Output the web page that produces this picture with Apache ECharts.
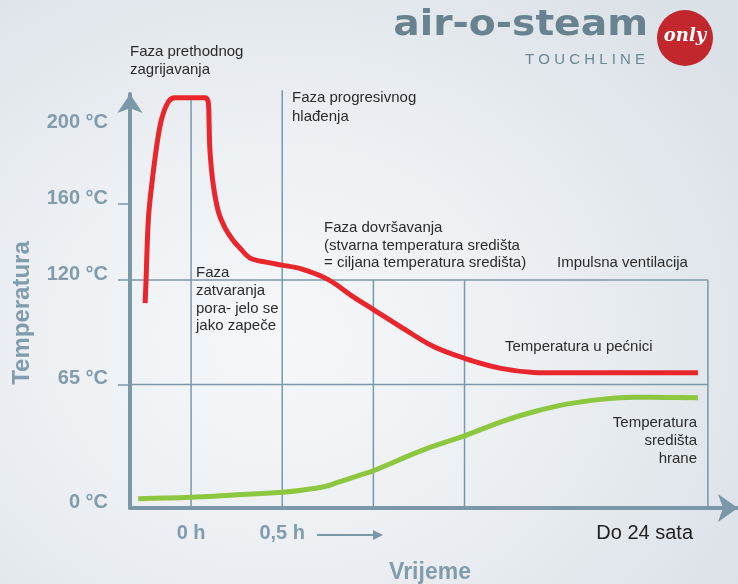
<!DOCTYPE html>
<html>
<head>
<meta charset="utf-8">
<script src="https://cdn.jsdelivr.net/npm/echarts@6/dist/echarts.min.js"></script>
<style>
  html, body { margin: 0; padding: 0; }
  #chart {
    width: 738px;
    height: 584px;
    background: radial-gradient(ellipse 75% 80% at 38% 58%, #f5f7f9 0%, #eef1f4 40%, #dae1e7 100%);
  }
</style>
</head>
<body>
<div id="chart"></div>
<script>
// temperatura u pećnici (crvena krivulja)
const ovenTime = [-0.252, -0.248, -0.234, -0.216, -0.188, -0.161, -0.125, -0.088,
  0.077, 0.095, 0.099, 0.104, 0.122, 0.15, 0.187, 0.23, 0.269, 0.324, 0.411, 0.5,
  0.6, 0.75, 0.89, 1.0, 1.15, 1.33, 1.5, 1.7, 1.88, 2.0, 2.78];
const ovenTemp = [107.9, 117.4, 152.5, 170, 191, 205, 213.8, 216,
  216, 213, 201.6, 187.5, 170, 156, 147.4, 141, 136.8, 131.6, 129.5, 127.9,
  126, 120.4, 111.2, 104.5, 95.4, 85, 78.8, 73.5, 71.4, 71.2, 71.2];

// temperatura središta hrane (zelena krivulja)
const coreTime = [-0.29, 0, 0.214, 0.5, 0.617, 0.727, 0.8, 0.91, 1.0, 1.13, 1.31, 1.5, 1.7, 1.88, 2.06, 2.25, 2.43, 2.6, 2.78];
const coreTemp = [4.9, 5.6, 6.7, 8.3, 9.5, 11.2, 13.3, 16.8, 19.6, 24.9, 31.9, 38, 45.4, 50.7, 54.7, 57.2, 58.3, 58.2, 58];

const tempTicks = [0, 65, 120, 160, 200];
const tempMarks = [65, 120, 160];
const timeTicks = [0, 0.5];
const timeNames = ['0 h', '0,5 h'];

// granice faza: [vrijeme, gornja temperatura]
const phaseLines = [[0, 216], [0.5, 220], [1, 120], [1.5, 120], [2.835, 120]];
const levelLines = [120, 65];
const levelEnd = 2.835;

const xMin = -0.335;
const axisColor = '#7b98a9';
const labelColor = '#809cad';
const textColor = '#2b2b2b';
const textFont = '15px "Liberation Sans", Arial, sans-serif';

function guide(data) {
  return {
    type: 'line',
    data: data,
    symbol: 'none',
    silent: true,
    clip: false,
    z: 1,
    lineStyle: { color: axisColor, width: 1.5 }
  };
}

const guides = phaseLines.map(p => guide([[p[0], 0], [p[0], p[1]]]))
  .concat(levelLines.map(t => guide([[xMin, t], [levelEnd, t]])));

function note(x, y, text, lh, align) {
  return {
    type: 'text',
    x: x,
    y: y,
    silent: true,
    style: {
      text: text,
      font: textFont,
      fill: textColor,
      lineHeight: lh || 17.6,
      align: align || 'left',
      verticalAlign: 'top'
    }
  };
}

const chart = echarts.init(document.getElementById('chart'));
chart.setOption({
  backgroundColor: 'transparent',
  animation: false,
  grid: { left: 130, right: 0, top: 94, bottom: 76, outerBoundsMode: 'none' },
  xAxis: {
    type: 'value',
    min: xMin,
    max: 3.0,
    name: 'Vrijeme',
    nameLocation: 'middle',
    nameGap: 53,
    nameTextStyle: { color: labelColor, fontSize: 23, fontWeight: 'bold', fontFamily: 'Liberation Sans', padding: [0, 8, 0, 0] },
    axisLine: {
      show: true,
      onZero: false,
      symbol: ['none', 'arrow'],
      symbolSize: [21, 20],
      lineStyle: { color: axisColor, width: 4 }
    },
    axisTick: { show: false },
    splitLine: { show: false },
    axisLabel: {
      customValues: timeTicks,
      formatter: v => timeNames[timeTicks.indexOf(v)],
      margin: 15,
      color: labelColor,
      fontSize: 20,
      fontWeight: 'bold',
      fontFamily: 'Liberation Sans'
    }
  },
  yAxis: {
    type: 'value',
    min: 0,
    max: 218,
    name: 'Temperatura',
    nameLocation: 'middle',
    nameRotate: 90,
    nameGap: 96,
    nameTextStyle: { color: labelColor, fontSize: 24, fontWeight: 'bold', fontFamily: 'Liberation Sans', padding: [0, 24, 0, 0] },
    axisLine: {
      show: true,
      onZero: false,
      symbol: ['none', 'arrow'],
      symbolSize: [19, 19],
      lineStyle: { color: axisColor, width: 4 }
    },
    axisTick: {
      show: true,
      customValues: tempMarks,
      length: 12,
      lineStyle: { color: axisColor, width: 1.5 }
    },
    splitLine: { show: false },
    axisLabel: {
      customValues: tempTicks,
      formatter: '{value} °C',
      margin: 22,
      verticalAlign: 'bottom',
      lineHeight: 12,
      color: labelColor,
      fontSize: 20,
      fontWeight: 'bold',
      fontFamily: 'Liberation Sans'
    }
  },
  series: guides.concat([
    {
      name: 'Temperatura u pećnici',
      type: 'line',
      data: ovenTime.map((t, i) => [t, ovenTemp[i]]),
      smooth: 0.35,
      symbol: 'none',
      clip: false,
      z: 3,
      lineStyle: { color: '#e8262b', width: 5 }
    },
    {
      name: 'Temperatura središta hrane',
      type: 'line',
      data: coreTime.map((t, i) => [t, coreTemp[i]]),
      smooth: 0.4,
      symbol: 'none',
      clip: false,
      z: 3,
      lineStyle: { color: '#8dc63f', width: 5 }
    }
  ]),
  graphic: [
    {
      type: 'text', x: 648, y: 43, scaleX: 1.12, originX: 0, silent: true,
      style: {
        text: 'air-o-steam', font: 'bold 35px "DejaVu Sans", sans-serif', fill: '#68838f',
        align: 'right', verticalAlign: 'bottom'
      }
    },
    {
      type: 'text', x: 645, y: 60, silent: true,
      style: {
        text: 'T O U C H L I N E',
        font: '15px "Liberation Sans", Arial', fill: '#6b8794',
        align: 'right', verticalAlign: 'middle'
      }
    },
    { type: 'circle', shape: { cx: 685, cy: 38, r: 28 }, style: { fill: '#c1272d' }, silent: true },
    {
      type: 'text', x: 685, y: 36, silent: true,
      style: {
        text: 'only', font: 'italic bold 18px "DejaVu Serif", serif', fill: '#ffffff',
        align: 'center', verticalAlign: 'middle'
      }
    },
    note(130, 43, 'Faza prethodnog\nzagrijavanja'),
    note(292, 89, 'Faza progresivnog\nhlađenja', 18.4),
    note(196, 264.5, 'Faza\nzatvaranja\npora- jelo se\njako zapeče'),
    note(324, 219.5, 'Faza dovršavanja\n(stvarna temperatura središta\n= ciljana temperatura središta)', 17.5),
    note(557, 254.5, 'Impulsna ventilacija'),
    note(505, 338, 'Temperatura u pećnici'),
    note(697, 413.5, 'Temperatura\nsredišta\nhrane', 18.2, 'right'),
    {
      type: 'text', x: 693, y: 533, silent: true,
      style: {
        text: 'Do 24 sata', font: '20px "Liberation Sans", Arial', fill: '#222222',
        align: 'right', verticalAlign: 'middle'
      }
    },
    {
      type: 'line', silent: true,
      shape: { x1: 317, y1: 535, x2: 375, y2: 535 },
      style: { stroke: axisColor, lineWidth: 2 }
    },
    {
      type: 'polygon', silent: true,
      shape: { points: [[373, 530], [383, 535], [373, 540]] },
      style: { fill: axisColor }
    }
  ]
});
</script>
</body>
</html>
